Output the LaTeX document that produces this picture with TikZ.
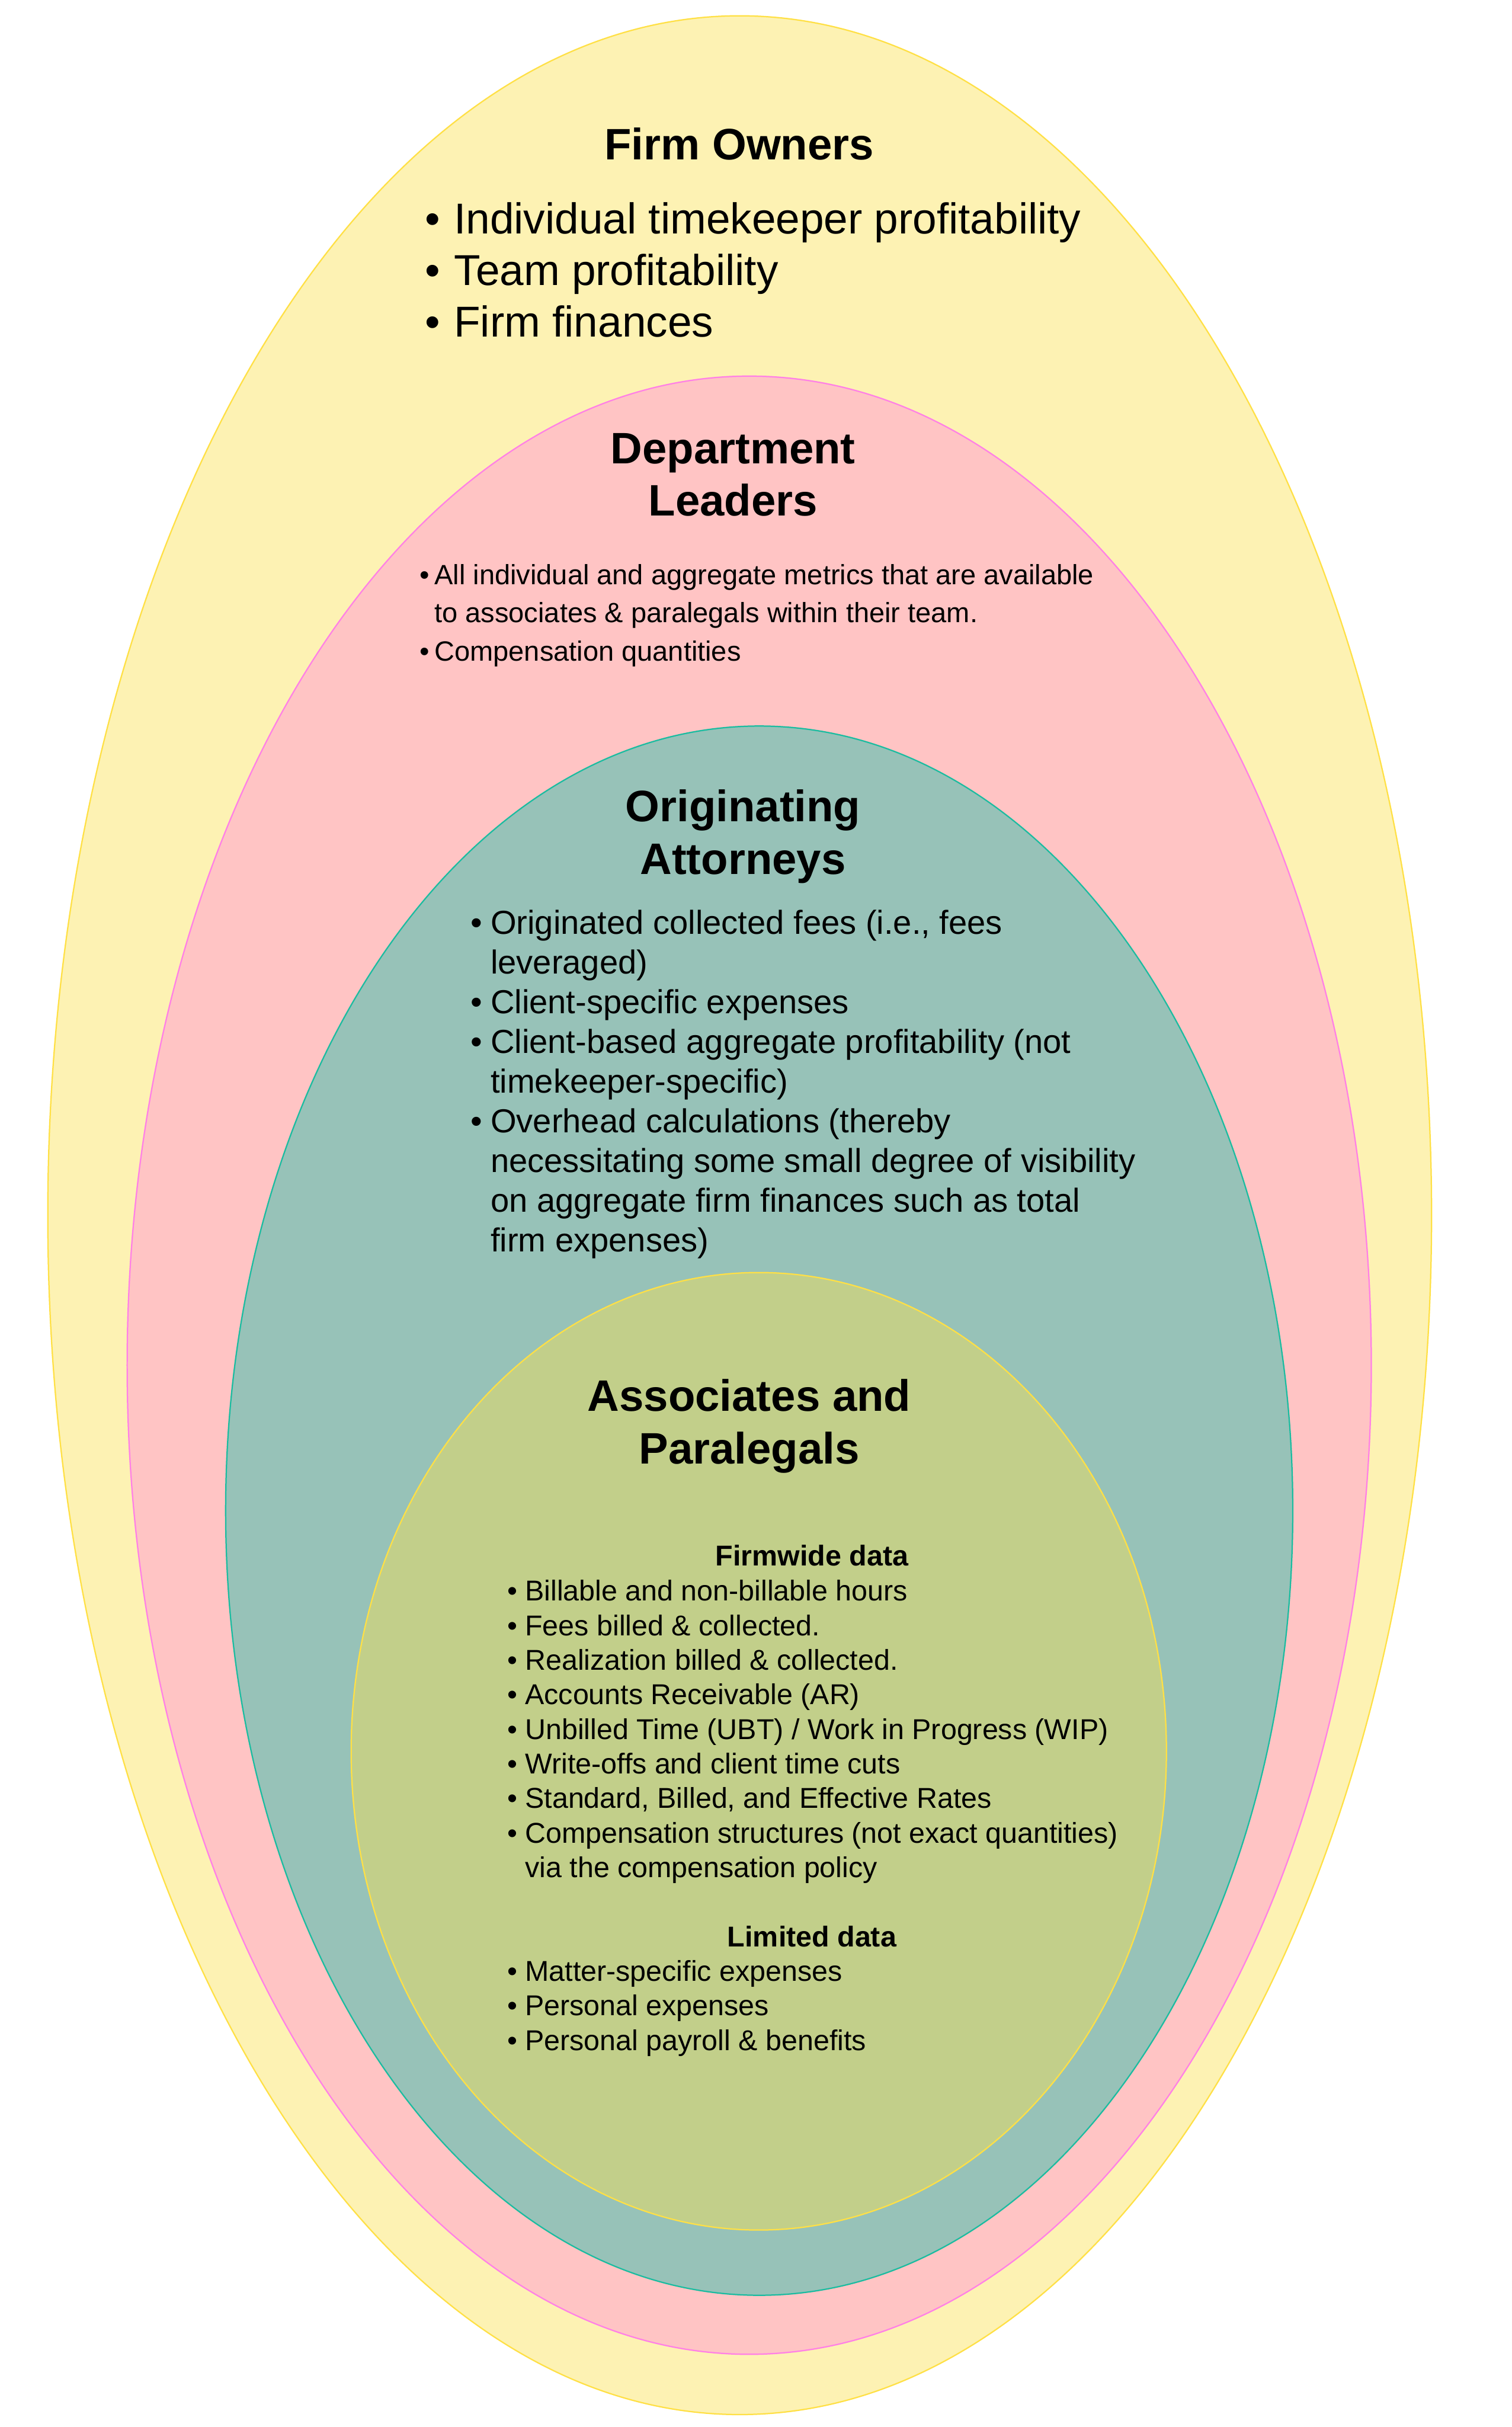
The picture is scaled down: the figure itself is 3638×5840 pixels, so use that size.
\documentclass[tikz,border=0pt]{standalone}
\usepackage{fontspec}
\setmainfont{Liberation Sans}
\definecolor{yfill}{HTML}{FDF2B3}
\definecolor{ydraw}{HTML}{FFE045}
\definecolor{pfill}{HTML}{FFC4C4}
\definecolor{pdraw}{HTML}{FF80E6}
\definecolor{tfill}{HTML}{97C2B8}
\definecolor{tdraw}{HTML}{1BBCA0}
\definecolor{gfill}{HTML}{C2CF8A}
\definecolor{gdraw}{HTML}{FFE045}
\newcommand\bul[1]{\makebox[#1][l]{•}}
\tikzset{
  ring/.style={line width=0.8pt},
  title/.style={anchor=base, inner sep=0pt, font=\fontsize{26.5}{31.5}\selectfont\bfseries},
  block/.style={anchor=base west, inner sep=0pt},
  subhead/.style={anchor=base, inner sep=0pt, font=\fontsize{17.25}{20.8}\selectfont\bfseries},
}
\begin{document}
\begin{tikzpicture}[x=0.25pt,y=-0.25pt]
\useasboundingbox (0,0) rectangle (3638,5840);
\fill[white] (0,0) rectangle (3638,5840);
\draw[ring, fill=yfill, draw=ydraw] (1780,2924) ellipse [x radius=1665, y radius=2886];
\draw[ring, fill=pfill, draw=pdraw] (1803,3285) ellipse [x radius=1497, y radius=2380];
\draw[ring, fill=tfill, draw=tdraw] (1827,3635) ellipse [x radius=1284, y radius=1888];
\draw[ring, fill=gfill, draw=gdraw] (1826,4214) ellipse [x radius=981, y radius=1152];

% Firm Owners
\node[title] (fo) at (1779,384) {Firm Owners};
\node[block] (folist) at (1022,562) {\fontsize{26}{31.1}\selectfont
\begin{tabular}[t]{@{}l@{}l@{}}
\bul{17.5pt} & Individual timekeeper profitability\\
\bul{17.5pt} & Team profitability\\
\bul{17.5pt} & Firm finances
\end{tabular}};

% Department Leaders
\node[title] (dl) at (1764,1115) {\begin{tabular}[t]{@{}c@{}}Department\\ Leaders\end{tabular}};
\node[block] (dllist) at (1010,1406) {\fontsize{16.75}{23.1}\selectfont
\begin{tabular}[t]{@{}l@{}l@{}}
\bul{8.75pt} & All individual and aggregate metrics that are available\\
 & to associates \& paralegals within their team.\\
\bul{8.75pt} & Compensation quantities
\end{tabular}};

% Originating Attorneys
\node[title] (oa) at (1788,1977) {\begin{tabular}[t]{@{}c@{}}Originating\\ Attorneys\end{tabular}};
\node[block] (oalist) at (1132,2247) {\fontsize{20}{23.9}\selectfont
\begin{tabular}[t]{@{}l@{}l@{}}
\bul{12pt} & Originated collected fees (i.e., fees\\
 & leveraged)\\
\bul{12pt} & Client-specific expenses\\
\bul{12pt} & Client-based aggregate profitability (not\\
 & timekeeper-specific)\\
\bul{12pt} & Overhead calculations (thereby\\
 & necessitating some small degree of visibility\\
 & on aggregate firm finances such as total\\
 & firm expenses)
\end{tabular}};

% Associates and Paralegals
\node[title] (ap) at (1803,3396) {\begin{tabular}[t]{@{}c@{}}Associates and\\ Paralegals\end{tabular}};
\node[subhead] (fw) at (1954,3767) {Firmwide data};
\node[block] (fwlist) at (1220,3852) {\fontsize{17.25}{20.8}\selectfont
\begin{tabular}[t]{@{}l@{}l@{}}
\bul{10.75pt} & Billable and non-billable hours\\
\bul{10.75pt} & Fees billed \& collected.\\
\bul{10.75pt} & Realization billed \& collected.\\
\bul{10.75pt} & Accounts Receivable (AR)\\
\bul{10.75pt} & Unbilled Time (UBT) / Work in Progress (WIP)\\
\bul{10.75pt} & Write-offs and client time cuts\\
\bul{10.75pt} & Standard, Billed, and Effective Rates\\
\bul{10.75pt} & Compensation structures (not exact quantities)\\
 & via the compensation policy
\end{tabular}};
\node[subhead] (ld) at (1954,4684) {Limited data};
\node[block] (ldlist) at (1220,4767) {\fontsize{17.25}{20.8}\selectfont
\begin{tabular}[t]{@{}l@{}l@{}}
\bul{10.75pt} & Matter-specific expenses\\
\bul{10.75pt} & Personal expenses\\
\bul{10.75pt} & Personal payroll \& benefits
\end{tabular}};
\end{tikzpicture}
\end{document}
